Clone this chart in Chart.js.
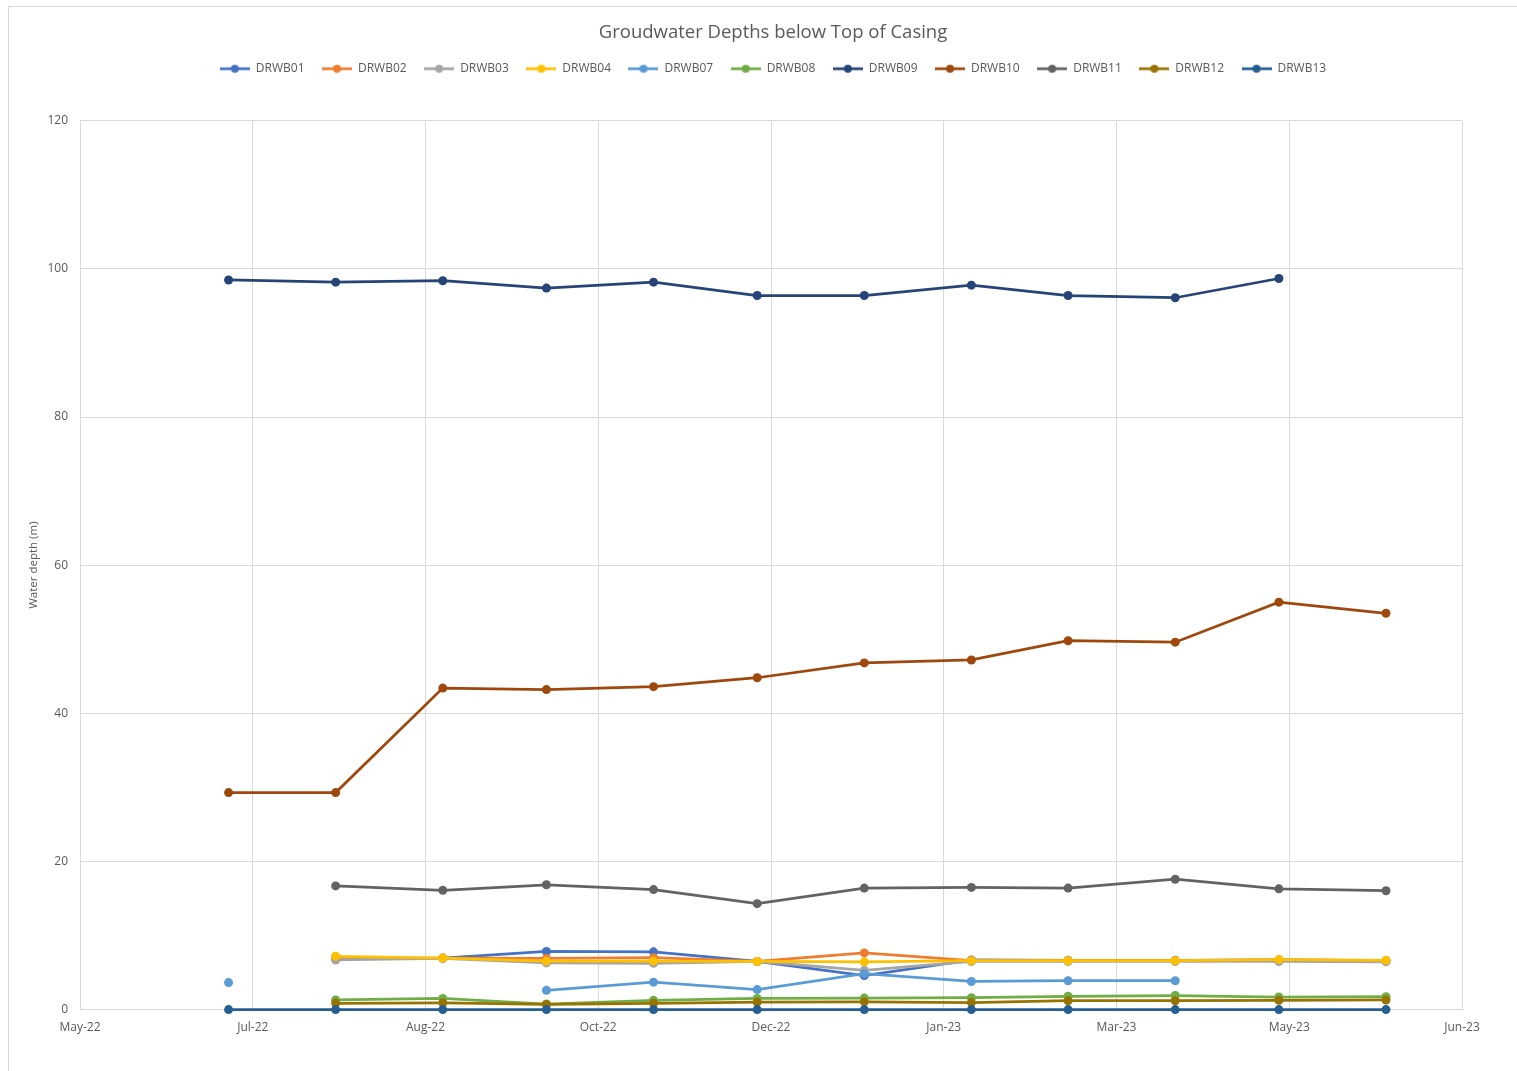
<!DOCTYPE html>
<html>
<head>
<meta charset="utf-8">
<title>Groudwater Depths below Top of Casing</title>
<script src="https://cdn.jsdelivr.net/npm/chart.js@4.4.1/dist/chart.umd.min.js"></script>
<style>
    html, body { margin: 0; padding: 0; background: #ffffff; overflow: hidden; }
    #wrap { position: relative; width: 1517px; height: 1071px; overflow: hidden; }
    #frame { position: absolute; left: 8px; top: 6px; width: 1530px; height: 1090px; border: 1px solid #d9d9d9; pointer-events: none; }
    canvas { position: absolute; left: 0; top: 0; }
</style>
</head>
<body>
<div id="wrap">
    <canvas id="depthChart" width="1546" height="1071"></canvas>
    <div id="frame"></div>
</div>
<script>
// sampling dates (1st of each month)
var sampleDates = ['2022-07-01', '2022-08-01', '2022-09-01', '2022-10-01', '2022-11-01', '2022-12-01',
                   '2023-01-01', '2023-02-01', '2023-03-01', '2023-04-01', '2023-05-01', '2023-06-01'];

var boreNames = ['DRWB01', 'DRWB02', 'DRWB03', 'DRWB04', 'DRWB07', 'DRWB08',
                 'DRWB09', 'DRWB10', 'DRWB11', 'DRWB12', 'DRWB13'];

// depth below top of casing (m), null = not measured
var drwb01 = [null, 6.9, 6.95, 7.85, 7.8, 6.5, 4.6, 6.7, 6.65, 6.65, 6.7, 6.6];
var drwb02 = [null, 6.9, 6.95, 6.9, 7.0, 6.5, 7.65, 6.6, 6.6, 6.6, 6.7, 6.6];
var drwb03 = [null, 6.7, 6.9, 6.3, 6.25, 6.5, 5.3, 6.5, 6.5, 6.5, 6.5, 6.45];
var drwb04 = [null, 7.2, 6.95, 6.55, 6.55, 6.5, 6.45, 6.6, 6.6, 6.6, 6.75, 6.65];
var drwb07 = [3.65, null, null, 2.6, 3.7, 2.7, 4.85, 3.8, 3.9, 3.9, null, null];
var drwb08 = [null, 1.3, 1.5, 0.75, 1.25, 1.5, 1.55, 1.6, 1.8, 1.9, 1.7, 1.75];
var drwb09 = [98.5, 98.2, 98.4, 97.4, 98.2, 96.4, 96.4, 97.8, 96.4, 96.1, 98.7, null];
var drwb10 = [29.3, 29.3, 43.4, 43.2, 43.6, 44.8, 46.8, 47.2, 49.8, 49.6, 55.0, 53.5];
var drwb11 = [null, 16.7, 16.1, 16.85, 16.2, 14.3, 16.4, 16.5, 16.4, 17.6, 16.3, 16.05];
var drwb12 = [null, 0.85, 0.9, 0.7, 0.85, 1.0, 1.05, 0.95, 1.2, 1.2, 1.25, 1.3];
var drwb13 = [0, 0, 0, 0, 0, 0, 0, 0, 0, 0, 0, 0];

var boreValues = [drwb01, drwb02, drwb03, drwb04, drwb07, drwb08, drwb09, drwb10, drwb11, drwb12, drwb13];

var boreColors = ['#4472C4', '#ED7D31', '#A5A5A5', '#FFC000', '#5B9BD5', '#70AD47',
                  '#264478', '#9E480E', '#636363', '#997300', '#255E91'];

// date axis in spreadsheet serial days
var axisStart = 44700;
var axisEnd = 45100;
var axisStep = 50;

var monthNames = ['Jan', 'Feb', 'Mar', 'Apr', 'May', 'Jun', 'Jul', 'Aug', 'Sep', 'Oct', 'Nov', 'Dec'];

function toSerial(iso) {
    var p = iso.split('-');
    return Date.UTC(+p[0], +p[1] - 1, +p[2]) / 86400000 + 25569;
}

function serialLabel(serial) {
    var d = new Date((serial - 25569) * 86400000);
    return monthNames[d.getUTCMonth()] + '-' + String(d.getUTCFullYear()).slice(2);
}

// small line + dot swatch for the legend
function legendSwatch(color) {
    var c = document.createElement('canvas');
    c.width = 30;
    c.height = 10;
    var g = c.getContext('2d');
    g.strokeStyle = color;
    g.lineWidth = 2.75;
    g.beginPath();
    g.moveTo(0, 5);
    g.lineTo(30, 5);
    g.stroke();
    g.fillStyle = color;
    g.beginPath();
    g.arc(15, 5, 4, 0, Math.PI * 2);
    g.fill();
    return c;
}

// leaves some room between the legend and the plot
var legendGap = {
    id: 'legendGap',
    beforeInit: function (chart) {
        var fit = chart.legend.fit;
        chart.legend.fit = function () {
            fit.bind(chart.legend)();
            this.height += 36;
        };
    }
};

document.addEventListener("DOMContentLoaded", function () {

    var xs = sampleDates.map(toSerial);
    var swatches = boreColors.map(legendSwatch);

    var datasets = boreNames.map(function (name, i) {
        return {
            label: name,
            data: boreValues[i].map(function (v, j) { return { x: xs[j], y: v }; }),
            borderColor: boreColors[i],
            backgroundColor: boreColors[i],
            borderWidth: 2.75,
            pointRadius: 4.5,
            pointBorderWidth: 0,
            pointHoverRadius: 5.5,
            tension: 0,
            spanGaps: false,
            clip: false,
            // later wells drawn on top
            order: boreNames.length - i
        };
    });

    var textColor = '#595959';
    var gridColor = '#d9d9d9';
    var fontFamily = "'Open Sans', sans-serif";

    new Chart(document.getElementById('depthChart'), {
        type: 'line',
        data: { datasets: datasets },
        plugins: [legendGap],
        options: {
            responsive: false,
            animation: false,
            devicePixelRatio: 1,
            layout: {
                padding: { top: 0, right: 0, bottom: 25, left: 0 }
            },
            plugins: {
                title: {
                    display: true,
                    text: 'Groudwater Depths below Top of Casing',
                    color: textColor,
                    font: { family: fontFamily, size: 18.5, weight: 'normal' },
                    padding: { top: 22, bottom: 1 }
                },
                legend: {
                    position: 'top',
                    labels: {
                        color: textColor,
                        font: { family: fontFamily, size: 12 },
                        usePointStyle: true,
                        pointStyleWidth: 30,
                        padding: 17.5,
                        sort: function (a, b) { return a.datasetIndex - b.datasetIndex; },
                        generateLabels: function (chart) {
                            var items = Chart.defaults.plugins.legend.labels.generateLabels(chart);
                            items.forEach(function (it) {
                                it.pointStyle = swatches[it.datasetIndex];
                            });
                            return items;
                        }
                    }
                },
                tooltip: { enabled: true }
            },
            scales: {
                x: {
                    type: 'linear',
                    min: axisStart,
                    max: axisEnd,
                    ticks: {
                        stepSize: axisStep,
                        color: textColor,
                        font: { family: fontFamily, size: 12 },
                        padding: 11,
                        maxRotation: 0,
                        callback: function (v) { return serialLabel(v); }
                    },
                    grid: { color: gridColor, drawTicks: false },
                    border: { color: gridColor },
                    afterFit: function (scale) {
                        // plot ends at 1462px
                        scale.paddingRight = 84;
                    }
                },
                y: {
                    min: 0,
                    max: 120,
                    ticks: {
                        stepSize: 20,
                        color: textColor,
                        font: { family: fontFamily, size: 12 },
                        padding: 12
                    },
                    grid: { color: gridColor, drawTicks: false },
                    border: { color: gridColor },
                    title: {
                        display: true,
                        text: 'Water depth (m)',
                        color: textColor,
                        font: { family: fontFamily, size: 11.5 },
                        padding: { top: 27, bottom: 0 }
                    },
                    afterFit: function (scale) {
                        scale.width = 80;
                    }
                }
            }
        }
    });
});
</script>
</body>
</html>
